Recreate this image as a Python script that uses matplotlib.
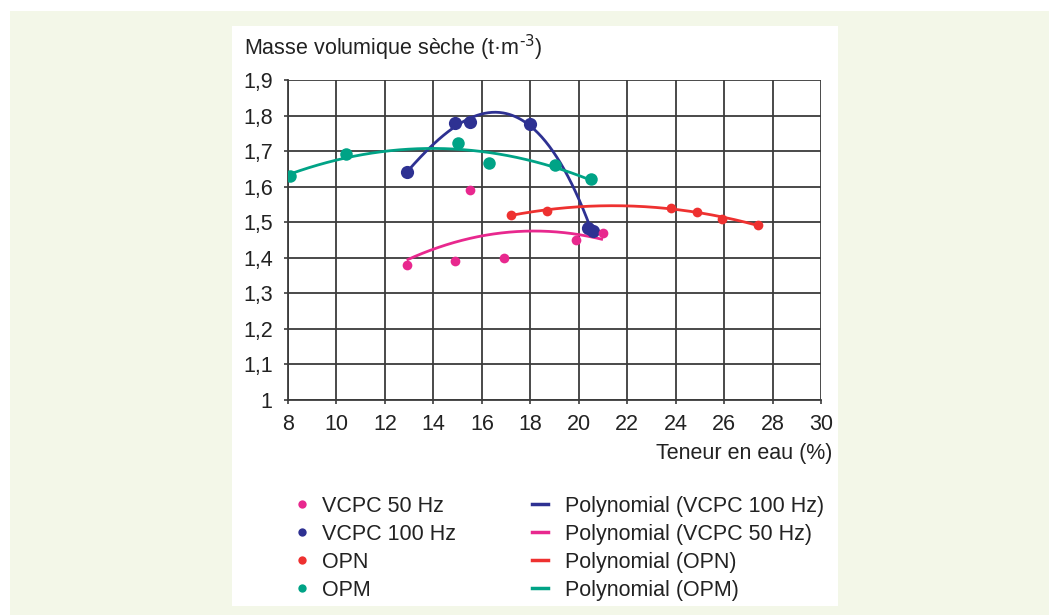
import numpy as np
import matplotlib
matplotlib.use("Agg")
import matplotlib.pyplot as plt
from matplotlib.patches import Rectangle
from matplotlib.lines import Line2D

plt.rcParams['font.family'] = ['Liberation Sans', 'DejaVu Sans']

# teneur en eau (%) / masse volumique seche (t.m-3)
vcpc50_x = [12.9, 14.9, 15.5, 16.9, 19.9, 21.0]
vcpc50_y = [1.38, 1.39, 1.59, 1.40, 1.45, 1.47]

vcpc100_x = [12.9, 14.9, 15.5, 18.0, 20.4, 20.6]
vcpc100_y = [1.64, 1.778, 1.781, 1.776, 1.484, 1.476]

opn_x = [17.2, 18.7, 23.8, 24.9, 25.9, 27.4]
opn_y = [1.521, 1.532, 1.540, 1.530, 1.510, 1.492]

opm_x = [8.1, 10.4, 15.0, 16.3, 19.0, 20.5]
opm_y = [1.629, 1.691, 1.724, 1.666, 1.660, 1.621]

col_50 = '#e8288e'
col_100 = '#2e3192'
col_opn = '#ee3130'
col_opm = '#00a386'

FS = 15.5
W, H = 1049, 615
fig = plt.figure(figsize=(W / 100, H / 100), dpi=100, facecolor='white')
fig.patches.append(Rectangle((10 / W, 0), 1 - 10 / W, 1 - 11 / H, transform=fig.transFigure,
                             facecolor='#f3f7e8', edgecolor='none', zorder=-2))
fig.patches.append(Rectangle((232 / W, 1 - 606 / H), (838 - 232) / W, (606 - 26) / H,
                             transform=fig.transFigure, facecolor='white', edgecolor='none', zorder=-1))

ax = fig.add_axes([288 / W, 1 - 400 / H, (821 - 288) / W, (400 - 80) / H])
ax.set_facecolor('none')


def trend(x, y, deg=2):
    c = np.polyfit(x, y, deg)
    xs = np.linspace(min(x), max(x), 200)
    return xs, np.polyval(c, xs)


series = [
    (vcpc100_x, vcpc100_y, col_100, 9.5, 3),
    (opm_x, opm_y, col_opm, 9, 2),
    (opn_x, opn_y, col_opn, 7, 2),
    (vcpc50_x, vcpc50_y, col_50, 7, 2),
]
for x, y, c, ms, deg in series:
    xs, ys = trend(x, y, deg)
    ax.plot(xs, ys, color=c, lw=2, zorder=3, solid_capstyle='butt')
    ax.plot(x, y, 'o', color=c, ms=ms, mec='none', zorder=4)

ax.set_xlim(8, 30)
ax.set_ylim(1, 1.9)
ax.set_xticks(range(8, 31, 2))
yt = np.round(np.arange(1.0, 1.91, 0.1), 1)
ax.set_yticks(yt)
ax.set_yticklabels(['1' if v == 1 else ('%.1f' % v).replace('.', ',') for v in yt])
ax.grid(True, color='#3c3c3c', lw=1.3)
for s in ['top', 'right']:
    ax.spines[s].set_visible(False)
for s in ['left', 'bottom']:
    ax.spines[s].set_color('#3c3c3c')
    ax.spines[s].set_linewidth(1.3)
ax.tick_params(direction='out', length=3, width=1.2, color='#3c3c3c', labelsize=FS,
               labelcolor='#222222')
ax.tick_params(axis='y', pad=8)
ax.tick_params(axis='x', pad=7)
ax.set_axisbelow(True)

fig.text(244 / W, 1 - 48 / H, 'Masse volumique sèche (t·m$^{\\text{-3}}$)', fontsize=FS,
         color='#222222', va='center', ha='left')
fig.text(832 / W, 1 - 453 / H, 'Teneur en eau (%)', fontsize=FS, color='#222222',
         va='center', ha='right')

dots = [Line2D([], [], ls='none', marker='o', ms=6, mec='none', color=c)
        for c in [col_50, col_100, col_opn, col_opm]]
leg1 = fig.legend(dots, ['VCPC 50 Hz', 'VCPC 100 Hz', 'OPN', 'OPM'], loc='upper left',
                  bbox_to_anchor=(285 / W, 1 - 487 / H), frameon=False, fontsize=FS,
                  handlelength=0.8, handletextpad=0.53, labelspacing=0.33, borderaxespad=0)
lines = [Line2D([], [], color=c, lw=2.5) for c in [col_100, col_50, col_opn, col_opm]]
leg2 = fig.legend(lines, ['Polynomial (VCPC 100 Hz)', 'Polynomial (VCPC 50 Hz)',
                          'Polynomial (OPN)', 'Polynomial (OPM)'], loc='upper left',
                  bbox_to_anchor=(523 / W, 1 - 487 / H), frameon=False, fontsize=FS,
                  handlelength=0.75, handletextpad=0.79, labelspacing=0.33, borderaxespad=0)
for t in leg1.get_texts() + leg2.get_texts():
    t.set_color('#222222')

fig.savefig('out.png', dpi=100, facecolor=fig.get_facecolor())
